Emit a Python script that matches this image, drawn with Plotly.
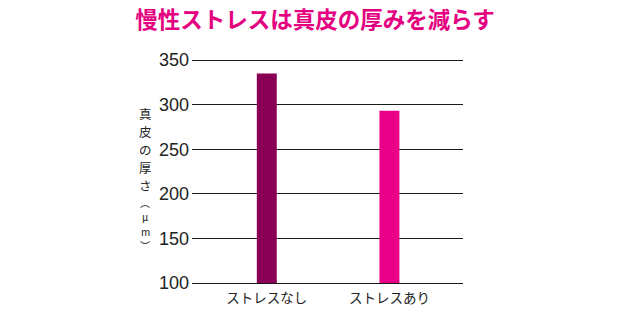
import plotly.graph_objects as go

categories = ["ストレスなし", "ストレスあり"]
values = [335, 293]
bar_colors = ["#8b0057", "#ea0088"]
y_ticks = [100, 150, 200, 250, 300, 350]
title_text = "慢性ストレスは真皮の厚みを減らす"
y_title_main = ["真", "皮", "の", "厚", "さ"]
y_title_unit = ["︵", "μ", "m", "︶"]

W, H = 630, 315
L, R, T, B = 192, 167, 58, 30

fig = go.Figure()
fig.add_trace(go.Bar(
    x=[0, 1], y=[v - 100 for v in values], base=100,
    marker=dict(color=bar_colors, line=dict(width=0)),
    width=0.163, hoverinfo="skip",
))

fig.update_layout(
    width=W, height=H,
    margin=dict(l=L, r=R, t=T, b=B, autoexpand=False),
    paper_bgcolor="white", plot_bgcolor="white",
    showlegend=False,
    font=dict(family="Noto Sans CJK JP", color="#222"),
    title=dict(
        text="<b>" + title_text + "</b>",
        x=0.5, xref="container", xanchor="center",
        y=1 - 20 / H, yref="container", yanchor="middle",
        font=dict(size=22.5, color="#e4007f", family="Noto Sans CJK JP"),
    ),
    xaxis=dict(
        range=[-0.61, 1.6], tickmode="array", tickvals=[0, 1], ticktext=categories,
        showgrid=False, zeroline=False, showline=False, ticks="", automargin=False,
        tickfont=dict(size=13.5, family="Noto Sans CJK JP", color="#222"),
        ticklabelstandoff=3,
    ),
    yaxis=dict(
        range=[97.76, 352.24], tickmode="array", tickvals=y_ticks,
        showgrid=True, gridcolor="#1a1a1a", gridwidth=1, automargin=False,
        zeroline=False, showline=False, ticks="",
        tickfont=dict(size=18, family="Liberation Sans Narrow, Liberation Sans, Arial", color="#222"),
        ticklabelstandoff=2,
    ),
)

pw = W - L - R
ph = H - T - B


def add_char(ch, py, size):
    fig.add_annotation(
        text=ch,
        x=(145 - L) / pw, y=(H - B - py) / ph, xref="paper", yref="paper",
        showarrow=False, borderpad=0,
        font=dict(size=size, family="Noto Sans CJK JP", color="#222"),
        xanchor="center", yanchor="middle",
    )


main_size, unit_size = 12.5, 10
py = 113.0
for ch in y_title_main:
    add_char(ch, py, main_size)
    py += main_size * 1.455
py += (unit_size - main_size) * 1.455 / 2
for ch in y_title_unit:
    add_char(ch, py, unit_size)
    py += unit_size * 1.455

fig.write_html("out.html")
